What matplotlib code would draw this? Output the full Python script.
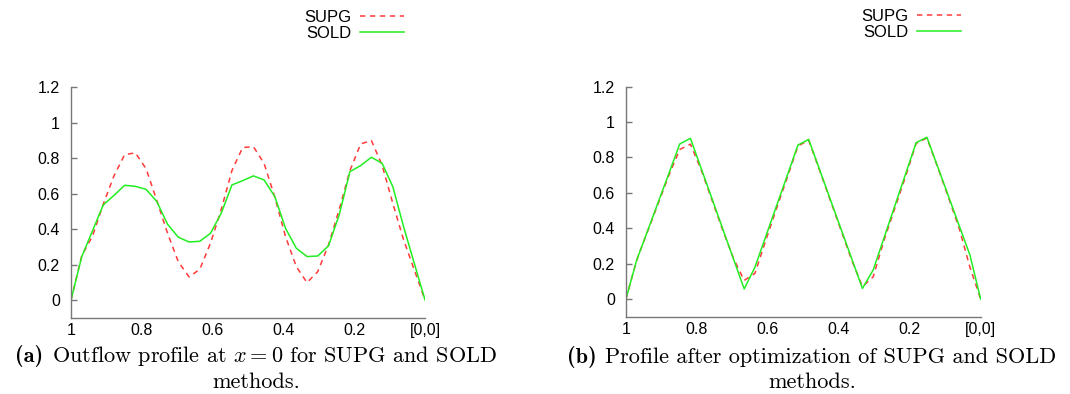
import matplotlib
matplotlib.use("Agg")
import matplotlib.pyplot as plt
from matplotlib.ticker import FixedLocator, FuncFormatter
from matplotlib.offsetbox import AnnotationBbox, HPacker, TextArea
import numpy as np

plt.rcParams["font.family"] = ["Liberation Sans", "DejaVu Sans"]
plt.rcParams["mathtext.fontset"] = "cm"

# mesh nodes along the outflow boundary, from 1 down to the corner [0,0]
s_nodes = np.linspace(1, 0, 34)

# (a) outflow profile at x = 0
supg_a = [0.0, 0.25, 0.36, 0.54, 0.70, 0.82, 0.83, 0.74, 0.56, 0.376, 0.216, 0.13,
          0.173, 0.32, 0.51, 0.73, 0.86, 0.865, 0.77, 0.58, 0.357, 0.188, 0.098,
          0.16, 0.31, 0.51, 0.73, 0.88, 0.90, 0.76, 0.545, 0.34, 0.17, 0.0]
sold_a = [0.0, 0.245, 0.39, 0.536, 0.59, 0.647, 0.641, 0.624, 0.555, 0.427, 0.354,
          0.327, 0.331, 0.376, 0.489, 0.649, 0.673, 0.700, 0.677, 0.583, 0.404,
          0.292, 0.245, 0.248, 0.305, 0.480, 0.724, 0.758, 0.805, 0.771, 0.639,
          0.414, 0.207, 0.0]

# (b) profile after optimization
supg_b = [0.0, 0.22, 0.38, 0.54, 0.70, 0.845, 0.875, 0.73, 0.56, 0.39, 0.23, 0.105,
          0.145, 0.33, 0.51, 0.685, 0.865, 0.897, 0.73, 0.56, 0.39, 0.22, 0.07,
          0.125, 0.33, 0.51, 0.69, 0.88, 0.91, 0.745, 0.575, 0.40, 0.18, 0.0]
sold_b = [0.0, 0.22, 0.383, 0.547, 0.71, 0.876, 0.908, 0.738, 0.568, 0.397, 0.227,
          0.057, 0.18, 0.352, 0.525, 0.697, 0.870, 0.902, 0.734, 0.565, 0.397,
          0.229, 0.06, 0.164, 0.344, 0.524, 0.704, 0.884, 0.914, 0.748, 0.582,
          0.415, 0.249, 0.0]

x_ticks = [1, 0.8, 0.6, 0.4, 0.2, 0]
x_tick_labels = ["1", "0.8", "0.6", "0.4", "0.2", "[0,0]"]
y_ticks = [0, 0.2, 0.4, 0.6, 0.8, 1.0, 1.2]

captions = [
    ("(a)", r"Outflow profile at $x = 0$ for SUPG and SOLD", "methods."),
    ("(b)", "Profile after optimization of SUPG and SOLD", "methods."),
]

RED = "#ff3a3a"
GREEN = "#22ee22"
AXIS_GRAY = "#777777"
CAP_SIZE = 16

fig = plt.figure(figsize=(10.7, 3.94), dpi=100)
ax_a = fig.add_axes([0.0664, 0.1937, 0.3308, 0.5848])
ax_b = fig.add_axes([0.585, 0.1962, 0.3315, 0.5838])


def style_axes(ax):
    ax.set_xlim(1, 0)
    ax.set_ylim(-0.1, 1.2)
    for side in ("top", "right"):
        ax.spines[side].set_visible(False)
    for side in ("left", "bottom"):
        ax.spines[side].set_color(AXIS_GRAY)
        ax.spines[side].set_linewidth(1.0)
    ax.xaxis.set_major_locator(FixedLocator(x_ticks))
    ax.set_xticklabels(x_tick_labels)
    ax.yaxis.set_major_locator(FixedLocator(y_ticks))
    ax.yaxis.set_major_formatter(FuncFormatter(lambda v, p: "%g" % round(v, 2)))
    ax.tick_params(axis="x", length=0, pad=4, labelsize=11.5)
    ax.tick_params(axis="y", direction="in", length=4.5, width=1.0,
                   color=AXIS_GRAY, pad=8, labelsize=11.5)


for ax, supg, sold in [(ax_a, supg_a, sold_a), (ax_b, supg_b, sold_b)]:
    ax.plot(s_nodes, supg, color=RED, lw=1.1, linestyle=(0, (3.5, 3)), label="SUPG")
    ax.plot(s_nodes, sold, color=GREEN, lw=1.1, label="SOLD")
    style_axes(ax)

# legends sit above each plot, text to the left of the line sample
legend_anchor = {ax_a: (304 / 1070, 1 - 10 / 394), ax_b: (861 / 1070, 1 - 9 / 394)}
for ax, anchor in legend_anchor.items():
    ax.legend(loc="upper left", bbox_to_anchor=anchor, bbox_transform=fig.transFigure,
              frameon=False, markerfirst=False, fontsize=12, handlelength=2.6,
              handletextpad=0.55, labelspacing=0.05, borderpad=0, borderaxespad=0)

# sub-figure captions: bold tag followed by roman text, two centred lines
for (tag, line1, line2), xc in zip(captions, [256 / 1070, 812 / 1070]):
    row = HPacker(children=[
        TextArea(tag, textprops=dict(family="cmb10", fontsize=CAP_SIZE)),
        TextArea(line1, textprops=dict(family="cmr10", fontsize=CAP_SIZE)),
    ], align="baseline", pad=0, sep=6)
    fig.add_artist(AnnotationBbox(row, (xc, 1 - 363 / 394), xycoords="figure fraction",
                                  box_alignment=(0.5, 0.22), frameon=False, pad=0))
    fig.text(xc, 1 - 388 / 394, line2, family="cmr10", fontsize=CAP_SIZE,
             ha="center", va="baseline")

fig.savefig("out.png", dpi=100)
